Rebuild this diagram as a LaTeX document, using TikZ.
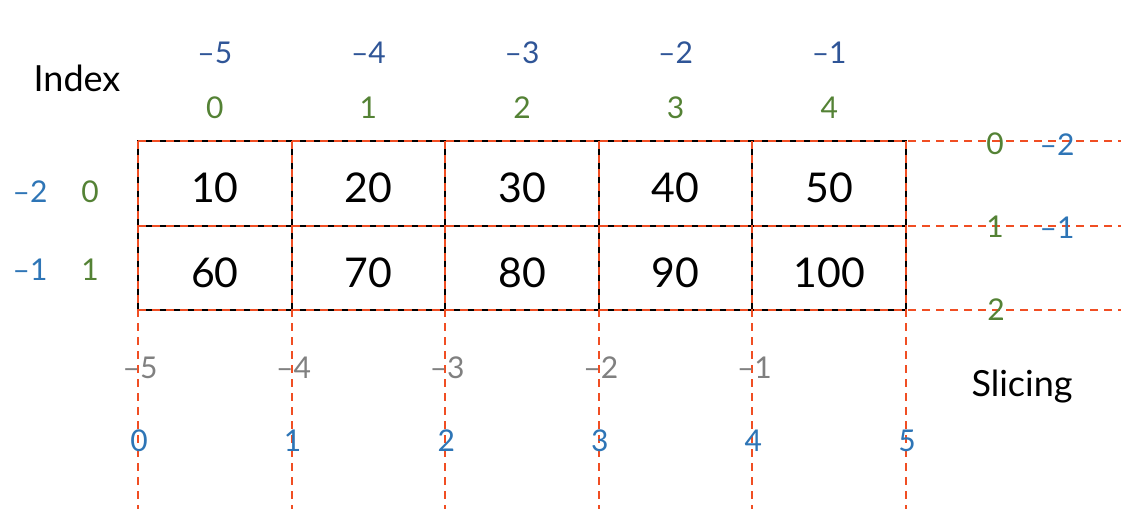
\documentclass[tikz,border=0pt]{standalone}
\usepackage{fontspec}
\setmainfont{Lato}
\definecolor{redd}{HTML}{F04E23}
\definecolor{dblue}{HTML}{2F5597}
\definecolor{lblue}{HTML}{2E75B6}
\definecolor{grn}{HTML}{548235}
\definecolor{gry}{HTML}{808080}
\begin{document}
\begin{tikzpicture}[x=1pt,y=-1pt,
  cell/.style={draw=black,line width=2pt,minimum width=153.6pt,minimum height=84.5pt,inner sep=0pt,outer sep=0pt,text height=39pt,text depth=0pt,font=\fontsize{41}{44}\selectfont},
  guide/.style={draw=redd,line width=2pt,dash pattern=on 8pt off 6pt},
  lab/.style={inner sep=0pt,font=\fontsize{30}{33}\selectfont},
  title/.style={inner sep=0pt,font=\fontsize{36}{40}\selectfont}]
\useasboundingbox (0,0) rectangle (1121,509);
% cells
\foreach \v [count=\i from 0] in {10,20,30,40,50}{
  \node[cell] (a\i) at ({214.8+153.6*\i},183.25) {\v};
}
\foreach \v [count=\i from 0] in {60,70,80,90,100}{
  \node[cell] (b\i) at ({214.8+153.6*\i},267.75) {\v};
}
% guide coordinates
\foreach \i in {0,...,5}{
  \coordinate (vt\i) at ({138+153.6*\i},141);
  \coordinate (vb\i) at ({138+153.6*\i},509);
  \draw[guide] (vt\i) -- (vb\i);
}
\foreach \j/\y in {0/141,1/225.5,2/310}{
  \coordinate (hl\j) at (138,\y);
  \coordinate (hr\j) at (1121,\y);
  \draw[guide] (hl\j) -- (hr\j);
}
% top index labels
\foreach \t [count=\i from 0] in {–5,–4,–3,–2,–1}{
  \node[lab,text=dblue] (tn\i) at ({214.8+153.6*\i},53) {\t};
}
\foreach \t [count=\i from 0] in {0,1,2,3,4}{
  \node[lab,text=grn] (tp\i) at ({214.8+153.6*\i},108) {\t};
}
\node[title] (index) at (77,78) {Index};
% left labels
\node[lab,text=lblue] (ln0) at (30,192) {–2};
\node[lab,text=grn] (lp0) at (90,192) {0};
\node[lab,text=lblue] (ln1) at (30,270) {–1};
\node[lab,text=grn] (lp1) at (90,270) {1};
% right labels
\node[lab,text=grn] (rp0) at (995,144) {0};
\node[lab,text=lblue] (rn0) at (1057,145) {–2};
\node[lab,text=grn] (rp1) at (995,227) {1};
\node[lab,text=lblue] (rn1) at (1057,228) {–1};
\node[lab,text=grn] (rp2) at (996,310) {2};
% bottom slicing labels
\foreach \t [count=\i from 0] in {–5,–4,–3,–2,–1}{
  \node[lab,text=gry] (bn\i) at ({140+153.6*\i},368) {\t};
}
\foreach \t [count=\i from 0] in {0,1,2,3,4,5}{
  \node[lab,text=lblue] (bp\i) at ({139+153.6*\i},441) {\t};
}
\node[title] (slicing) at (1022,387) {Slicing};
\end{tikzpicture}
\end{document}
